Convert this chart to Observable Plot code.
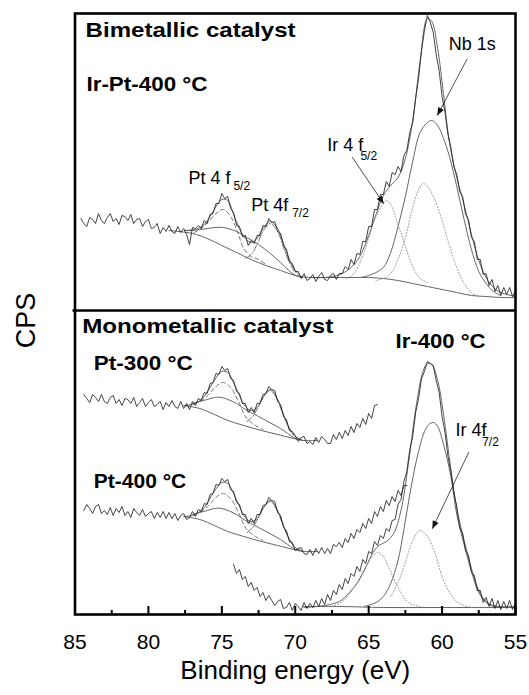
<!DOCTYPE html>
<html><head><meta charset="utf-8">
<script src="https://cdn.jsdelivr.net/npm/d3@7"></script>
<script src="https://cdn.jsdelivr.net/npm/@observablehq/plot@0.6"></script>
<style>body{margin:0;background:#fff;} svg{display:block;}</style>
</head><body><div id="chart"></div>
<script>
// ---- raw spectra: energy grid start (eV) and step, intensities (a.u.) ----
const STEP = 0.2;
const irPtStart = 84.6;
const irPtCps = [396,391,388,397,395,391,401,394,391,397,
401,393,396,390,399,398,394,400,391,395,
396,388,393,395,386,387,391,381,387,383,
389,383,381,388,382,386,380,370,387,386,
389,386,394,391,400,401,411,411,421,416,
418,406,402,389,388,378,379,369,374,371,
379,379,389,388,396,392,393,383,381,369,
365,353,351,343,343,336,341,334,336,340,
333,338,342,335,334,339,341,335,341,341,
348,345,355,350,361,360,373,373,388,388,
405,405,420,420,433,428,442,440,448,443,
459,464,482,492,516,536,564,584,599,592,
582,560,544,518,502,480,467,448,440,423,
418,400,395,377,373,355,355,340,341,329,
335,323,329,319,327,320,327,318,324];
const pt300Start = 84.4;
const pt300Cps = [220,216,212,220,217,213,220,213,211,217,
219,211,215,209,216,215,211,217,208,212,
216,208,212,215,208,210,213,205,212,208,
214,208,206,213,206,211,205,213,209,216,
214,222,221,231,232,241,240,248,244,246,
236,234,223,221,211,211,202,207,202,211,
211,220,221,228,225,224,213,210,198,195,
184,183,179,173,177,178,171,173,170,177,
172,178,175,171,171,180,175,182,176,184,
179,188,182,191,187,196,190,201,196,209,
210];
const pt400Start = 84.4;
const pt400Cps = [104,110,106,101,108,110,101,104,100,107,
99,106,102,108,99,103,97,106,102,99,
105,98,101,103,96,102,97,103,96,102,
96,101,94,99,101,95,97,103,98,105,
103,111,110,120,121,130,129,136,133,135,
125,123,112,110,100,100,91,96,91,100,
100,109,110,117,114,113,102,99,87,84,
73,72,64,66,67,61,60,65,59,66,
61,67,61,66,61,70,68,72,67,76,
72,81,76,85,82,91,86,96,91,103,
98,108,103,114,109,118,113,124,119,129,
129];
const ir400Start = 74.2;
const ir400Cps = [50,41,45,35,38,28,32,24,27,18,
22,14,19,14,9,13,15,6,7,12,
4,11,8,4,12,6,11,7,14,8,
16,10,20,14,24,20,30,25,36,31,
41,38,48,43,55,51,63,61,73,69,
79,76,86,83,94,95,110,115,133,143,
165,178,202,216,236,243,253,251,249,234,
222,198,182,158,143,122,108,87,81,64,
59,42,39,24,24,12,17,8,16,6,
14,5,13,6,14,5,11];

// ---- fitted curves (energy, intensity) ----
// Ir-Pt-400 (bimetallic)
const bgTopE = [78.6,77.0,76.0,75.0,74.0,73.0,72.0,71.0,70.0,69.0,68.0,67.0,66.0,65.0,64.0,63.0,62.0,61.0,60.0,59.0,58.0,57.0,56.0,55.0];
const bgTopV = [384,381,376,369,362,355,349,344,339,337,337,337,337,337,336,334,331,328,325,322,319,318,317,317];
const ptBroadTopE = [77.5,76.4,75.5,74.9,74.0,73.3,72.5,71.7,71.0,70.1,69.5];
const ptBroadTopV = [384,385,387,387,383,377,370,361,352,340,337];
const pt52TopE = [76.9,76.4,75.9,75.4,74.9,74.4,73.9,73.5,73.0,72.5,72.0];
const pt52TopV = [382,386,393,401,405,398,381,366,358,355,350];
const pt72TopE = [73.4,73.0,72.6,72.2,71.7,71.2,70.8,70.4,70.0];
const pt72TopV = [356,360,370,383,391,383,367,352,342];
const ptEnvTopE = [77.5,76.8,76.2,75.6,75.0,74.6,74.2,73.8,73.4,73.0,72.6,72.2,71.7,71.2,70.8,70.4,70.0,69.6];
const ptEnvTopV = [384,385,390,403,415,414,400,386,376,372,376,386,393,386,371,355,344,338];
const envTopE = [69.0,68.0,67.4,66.8,66.2,65.6,65.0,64.5,64.0,63.5,63.0,62.5,62.0,61.5,61.0,60.7,60.3,59.9,59.5,59.0,58.5,58.0,57.5,57.0,56.5,56.0,55.0];
const envTopV = [337,337,338,341,347,358,379,400,419,429,437,456,494,553,596,593,566,520,472,437,410,380,354,337,327,322,318];
const nbTopE = [65.5,65.0,64.5,64.0,63.5,63.0,62.5,62.0,61.5,61.0,60.7,60.3,59.9,59.5,59.0,58.5,58.0,57.5,57.0,56.5,56.0];
const nbTopV = [337,339,342,347,362,388,418,453,482,492,494,489,476,458,428,395,365,343,331,323,319];
const ir72TopE = [64.5,64.0,63.5,63.0,62.5,62.0,61.6,61.3,61.0,60.5,60.0,59.5,59.0,58.5,58.0,57.5];
const ir72TopV = [334,336,341,355,377,407,425,431,428,415,394,369,347,331,322,318];
const ir52TopE = [66.5,66.0,65.5,65.0,64.5,64.0,63.8,63.5,63.0,62.5,62.0,61.5,61.0];
const ir52TopV = [336,341,355,376,398,411,414,410,390,368,348,336,332];
// Pt-300
const bgP3E = [77.6,76.5,75.5,74.6,73.5,72.3,71.2,70.1,69.4,68.5];
const bgP3V = [209,206,200,194,189,184,180,176,174,174];
const broadP3E = [77.0,76.0,75.5,75.0,74.0,73.5,72.5,72.0,71.0,70.1,69.5];
const broadP3V = [211,215,217,217,211,206,198,194,186,177,174];
const pt52P3E = [76.9,76.4,75.9,75.4,74.9,74.4,73.9,73.3,72.7,72.2];
const pt52P3V = [211,214,220,228,232,227,214,196,189,185];
const pt72P3E = [73.3,72.9,72.5,72.1,71.7,71.3,70.9,70.5,70.1];
const pt72P3V = [193,198,208,219,224,217,203,189,179];
const envP3E = [77.5,76.8,76.2,75.6,75.0,74.6,74.2,73.8,73.4,73.0,72.6,72.2,71.7,71.2,70.8,70.4,70.0,69.6];
const envP3V = [209,211,218,232,243,242,232,219,208,204,207,217,225,215,200,186,178,175];
// Pt-400
const bgP4V = [98,95,89,83,78,73,69,65,63,63];
const broadP4V = [100,104,106,106,100,95,87,83,75,66,63];
const pt52P4V = [100,103,109,117,121,116,103,85,78,74];
const pt72P4V = [82,87,97,108,113,106,92,78,68];
const envP4V = [98,100,107,121,132,131,121,108,97,93,96,106,114,104,89,75,67,64];
// Ir-400
const bgIrE = [69.5,67.0,64.0,61.0,58.0,55.0];
const bgIrV = [8,8,7,7,7,7];
const envIrE = [69.4,68.0,67.0,66.3,65.7,65.2,64.7,64.3,63.8,63.3,62.8,62.3,61.8,61.3,61.0,60.7,60.3,59.9,59.4,59.0,58.5,58.0,57.5,57.0,56.5,56.0,55.0];
const envIrV = [7,9,13,22,33,47,62,69,73,81,104,150,205,243,251,250,234,200,145,106,74,46,24,13,9,8,8];
const nbIrE = [65.3,64.5,64.0,63.5,63.0,62.6,62.2,61.7,61.2,60.9,60.6,60.3,59.9,59.4,59.0,58.5,58.0,57.5,57.0,56.5,56.0];
const nbIrV = [8,12,18,31,54,85,120,157,183,190,192,188,170,138,100,70,43,22,12,8,7];
const ir72IrE = [63.5,63.0,62.5,62.0,61.5,61.0,60.5,60.0,59.5,59.0,58.5,58.0];
const ir72IrV = [18,32,52,74,84,78,62,38,22,13,9,7];
const ir52IrE = [67.5,66.8,66.0,65.2,64.8,64.4,64.0,63.6,63.0,62.3,61.5];
const ir52IrV = [8,13,27,48,57,62,58,46,27,12,8];

// ---- axis ticks ----
const majorTicks = [85,80,75,70,65,60,55];
const minorTicks = [82.5,77.5,72.5,67.5,62.5,57.5];
const panelSplit = [304];

// ---- annotations ----
const boldLabels = [
  {t:"Bimetallic catalyst", e:84.28, v:584},
  {t:"Ir-Pt-400 °C", e:84.22, v:530.5},
  {t:"Monometallic catalyst", e:84.51, v:288.5},
  {t:"Pt-300 °C", e:83.72, v:251.5},
  {t:"Pt-400 °C", e:83.72, v:133.5},
  {t:"Ir-400 °C", e:63.17, v:273.5}
];
const peakLabels = [
  {t:"Pt 4 f", e:77.27, v:436},
  {t:"Pt 4f", e:73.0, v:409},
  {t:"Ir 4 f", e:67.82, v:469},
  {t:"Nb 1s", e:59.54, v:570.5},
  {t:"Ir 4f", e:59.09, v:184}
];
const subLabels = [
  {t:"5/2", e:74.21, v:428},
  {t:"7/2", e:70.21, v:401},
  {t:"5/2", e:65.56, v:458},
  {t:"7/2", e:57.27, v:172}
];
const arrows = [
  {e1:58.29, v1:555.7, e2:60.33, v2:499},
  {e1:66.12, v1:457.3, e2:63.97, v2:410.7},
  {e1:58.18, v1:162.3, e2:60.67, v2:85.7}
];
const yTitle = [{t:"CPS", e:88.30, v:294}];
const boldWidths = {"Bimetallic catalyst":210, "Ir-Pt-400 °C":121, "Monometallic catalyst":251, "Pt-300 °C":99, "Ir-400 °C":90};

const spectrum = (start, vals) => vals.map((v, i) => ({e: +(start - i * STEP).toFixed(2), v}));
const pts = (es, vs) => es.map((e, i) => ({e, v: vs[i]}));

const rawStyle = {x: "e", y: "v", stroke: "#222", strokeWidth: 0.85};
const fit = (data, extra) => Plot.line(data, {x: "e", y: "v", curve: "catmull-rom", stroke: "#555", strokeWidth: 0.9, ...extra});
const dashed = {strokeDasharray: "4,3", stroke: "#666"};
const dashdot = {strokeDasharray: "6,2,1.5,2", stroke: "#666"};
const dotted = {strokeDasharray: "1,2", stroke: "#888"};

const FONT = "'Liberation Sans', Arial, Helvetica, sans-serif";

const chart = Plot.plot({
  width: 529, height: 695,
  marginLeft: 74.5, marginRight: 14, marginTop: 13, marginBottom: 81,
  style: {fontFamily: FONT, background: "#fff"},
  x: {domain: [85, 55], axis: null},
  y: {domain: [0, 601], axis: null},
  marks: [
    // top panel fits
    fit(pts(bgTopE, bgTopV)),
    fit(pts(ptBroadTopE, ptBroadTopV)),
    fit(pts(pt52TopE, pt52TopV), dashed),
    fit(pts(pt72TopE, pt72TopV), dashdot),
    fit(pts(ptEnvTopE, ptEnvTopV)),
    fit(pts(envTopE, envTopV)),
    fit(pts(nbTopE, nbTopV)),
    fit(pts(ir72TopE, ir72TopV), dotted),
    fit(pts(ir52TopE, ir52TopV), dotted),
    // Pt-300 fits
    fit(pts(bgP3E, bgP3V)),
    fit(pts(broadP3E, broadP3V)),
    fit(pts(pt52P3E, pt52P3V), dashed),
    fit(pts(pt72P3E, pt72P3V), dashdot),
    fit(pts(envP3E, envP3V)),
    // Pt-400 fits
    fit(pts(bgP3E, bgP4V)),
    fit(pts(broadP3E, broadP4V)),
    fit(pts(pt52P3E, pt52P4V), dashed),
    fit(pts(pt72P3E, pt72P4V), dashdot),
    fit(pts(envP3E, envP4V)),
    // Ir-400 fits
    fit(pts(bgIrE, bgIrV)),
    fit(pts(envIrE, envIrV)),
    fit(pts(nbIrE, nbIrV)),
    fit(pts(ir72IrE, ir72IrV), dotted),
    fit(pts(ir52IrE, ir52IrV), dotted),
    // raw spectra
    Plot.line(spectrum(irPtStart, irPtCps), rawStyle),
    Plot.line(spectrum(pt300Start, pt300Cps), rawStyle),
    Plot.line(spectrum(pt400Start, pt400Cps), rawStyle),
    Plot.line(spectrum(ir400Start, ir400Cps), rawStyle),
    // arrows
    Plot.link(arrows, {x1: "e1", y1: "v1", x2: "e2", y2: "v2", stroke: "#222", strokeWidth: 0.8}),
    // labels
    Plot.text(boldLabels, {x: "e", y: "v", text: "t", textAnchor: "start", fontSize: 21, fontWeight: "bold", fill: "#000"}),
    Plot.text(peakLabels, {x: "e", y: "v", text: "t", textAnchor: "start", fontSize: 18, fill: "#000"}),
    Plot.text(subLabels, {x: "e", y: "v", text: "t", textAnchor: "start", fontSize: 12, fill: "#000"}),
    // frame, divider, ticks
    Plot.ruleY(panelSplit, {stroke: "#000", strokeWidth: 2.6, insetLeft: -2}),
    Plot.ruleX(majorTicks, {stroke: "#000", strokeWidth: 2, insetTop: 593}),
    Plot.ruleX(minorTicks, {stroke: "#000", strokeWidth: 2, insetTop: 597}),
    Plot.frame({stroke: "#000", strokeWidth: 2.6}),
    Plot.axisX(majorTicks, {tickSize: 0, tickPadding: 20, fontSize: 21, label: null, fill: "#000"}),
    Plot.text(["Binding energy (eV)"], {frameAnchor: "bottom", dy: 64, fontSize: 26, fill: "#000"}),
    Plot.text(yTitle, {x: "e", y: "v", text: "t", rotate: -90, fontSize: 27, fill: "#000", clip: false})
  ]
});

// filled arrowheads and label widths (styling)
const svg = d3.select(chart);
const defs = svg.insert("defs", ":first-child");
defs.append("marker").attr("id", "ah").attr("viewBox", "0 -5 10 10").attr("refX", 10).attr("refY", 0)
  .attr("markerUnits", "userSpaceOnUse").attr("markerWidth", 10).attr("markerHeight", 8).attr("orient", "auto")
  .append("path").attr("d", "M0,-4L10,0L0,4Z").attr("fill", "#111");
svg.selectAll('g[aria-label="link"] path').attr("marker-end", "url(#ah)");
document.getElementById("chart").appendChild(chart);
svg.selectAll("text").each(function() {
  const w = boldWidths[this.textContent];
  if (w) { this.setAttribute("textLength", w); this.setAttribute("lengthAdjust", "spacingAndGlyphs"); }
});
</script>
</body></html>
